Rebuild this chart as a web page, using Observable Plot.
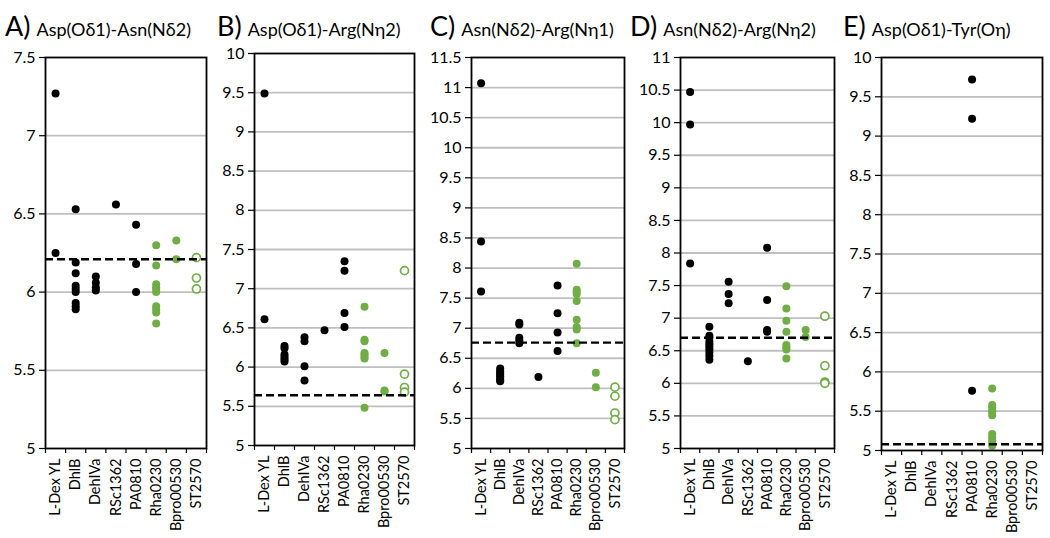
<!DOCTYPE html>
<html><head><meta charset="utf-8">
<script src="https://cdn.jsdelivr.net/npm/d3@7"></script>
<script src="https://cdn.jsdelivr.net/npm/@observablehq/plot@0.6"></script>
<style>
body{margin:0;background:#fff;font-family:Lato,"Open Sans",sans-serif;}
#wrap{position:relative;width:1050px;height:538px;overflow:hidden;}
.title{position:absolute;top:9px;white-space:nowrap;color:#000;}
.title .letter{font-size:27px;}
.title .name{font-size:18px;margin-left:6px;}
#wrap svg{position:absolute;}
</style></head><body><div id="wrap"></div><script>
// ---- data ----
const categories = ["L-Dex YL","DhlB","DehIVa","RSc1362","PA0810","Rha0230","Bpro00530","ST2570"];
const kinds = ["black","black","black","black","black","green","green","open"];

const titlesLetter = ["A)","B)","C)","D)","E)"];
const titlesName = ["Asp(Oδ1)-Asn(Nδ2)","Asp(Oδ1)-Arg(Nη2)","Asn(Nδ2)-Arg(Nη1)","Asn(Nδ2)-Arg(Nη2)","Asp(Oδ1)-Tyr(Oη)"];

const yMaxA = 7.5, yMaxB = 10, yMaxC = 11.5, yMaxD = 11, yMaxE = 10;
const yMin = 5;
const dashA = 6.21, dashB = 5.64, dashC = 6.76, dashD = 6.70, dashE = 5.08;

const valuesA = [
  [7.27, 6.25],
  [6.53, 6.19, 6.12, 6.04, 6.02, 6.00, 5.93, 5.91, 5.89],
  [6.10, 6.06, 6.03, 6.01],
  [6.56],
  [6.43, 6.18, 6.00],
  [6.30, 6.17, 6.05, 6.03, 6.02, 6.00, 5.91, 5.89, 5.87, 5.80],
  [6.33, 6.21],
  [6.22, 6.09, 6.02]
];
const valuesB = [
  [9.49, 6.61],
  [6.27, 6.24, 6.16, 6.13, 6.10, 6.07],
  [6.38, 6.33, 6.01, 5.83],
  [6.47],
  [7.35, 7.23, 6.69, 6.51],
  [6.77, 6.35, 6.33, 6.18, 6.16, 6.13, 6.11, 5.48],
  [6.18, 5.70, 5.69],
  [7.23, 5.91, 5.74, 5.68]
];
const valuesC = [
  [11.07, 8.44, 7.61],
  [6.33, 6.29, 6.26, 6.23, 6.20, 6.17, 6.14, 6.12],
  [7.09, 7.06, 6.84, 6.80, 6.75],
  [6.19],
  [7.71, 7.25, 6.93, 6.62],
  [8.07, 7.64, 7.61, 7.57, 7.45, 7.14, 7.02, 6.98, 6.75],
  [6.26, 6.02],
  [6.02, 5.87, 5.59, 5.48]
];
const valuesD = [
  [10.47, 9.97, 7.84],
  [6.87, 6.73, 6.70, 6.64, 6.60, 6.56, 6.52, 6.47, 6.42, 6.36],
  [7.56, 7.37, 7.23],
  [6.34],
  [8.08, 7.28, 6.82, 6.79],
  [7.49, 7.15, 6.96, 6.79, 6.59, 6.55, 6.52, 6.38],
  [6.82, 6.71],
  [7.03, 6.27, 6.02, 6.00]
];
const valuesE = [
  [], [], [], [],
  [9.72, 9.22, 5.76],
  [5.79, 5.58, 5.55, 5.51, 5.48, 5.45, 5.21, 5.17, 5.13, 5.09, 5.06],
  [], []
];

// ---- layout ----
const panels = [
  {values: valuesA, yMax: yMaxA, dash: dashA, left: 0,   width: 210, ml: 45, mr: 4, mt: 17, mb: 87, titleLeft: 5},
  {values: valuesB, yMax: yMaxB, dash: dashB, left: 210, width: 208, ml: 44, mr: 4, mt: 13, mb: 90, titleLeft: 217},
  {values: valuesC, yMax: yMaxC, dash: dashC, left: 418, width: 210, ml: 53, mr: 4, mt: 17, mb: 87, titleLeft: 430},
  {values: valuesD, yMax: yMaxD, dash: dashD, left: 628, width: 210, ml: 52, mr: 4, mt: 17, mb: 87, titleLeft: 630},
  {values: valuesE, yMax: yMaxE, dash: dashE, left: 838, width: 210, ml: 43, mr: 6, mt: 17, mb: 85, titleLeft: 843}
];
const svgTop = 40, svgHeight = 495;
const green = "#70ad47";

const wrap = document.getElementById("wrap");
panels.forEach((p, k) => {
  const t = document.createElement("div");
  t.className = "title";
  t.style.left = p.titleLeft + "px";
  t.innerHTML = `<span class="letter">${titlesLetter[k]}</span><span class="name">${titlesName[k]}</span>`;
  wrap.appendChild(t);

  const rows = [];
  p.values.forEach((vals, i) => vals.forEach(v => rows.push({i, v, kind: kinds[i]})));
  const yTicks = d3.range(yMin, p.yMax + 0.001, 0.5);
  const grid = yTicks.filter(v => v > yMin && v < p.yMax);
  const centers = d3.range(categories.length);
  const bounds = d3.range(categories.length + 1).map(i => i - 0.5);

  const chart = Plot.plot({
    width: p.width, height: svgHeight,
    marginLeft: p.ml, marginRight: p.mr, marginTop: p.mt, marginBottom: p.mb,
    style: {fontFamily: "Lato, 'Open Sans', sans-serif", fontSize: "15px", color: "#000", background: "transparent", overflow: "visible"},
    x: {type: "linear", domain: [-0.5, categories.length - 0.5], axis: null},
    y: {domain: [yMin, p.yMax], axis: null},
    marks: [
      Plot.ruleY(grid, {stroke: "#bfbfbf", strokeWidth: 1.8}),
      Plot.axisY(yTicks, {tickSize: 6, tickPadding: 4, tickFormat: d => String(d), label: null, fontSize: 16, strokeWidth: 1.2}),
      Plot.axisX(bounds, {tickSize: 5, tickFormat: () => "", label: null, strokeWidth: 1.2}),
      Plot.axisX(centers, {tickSize: 0, tickPadding: 10, tickFormat: i => categories[i], tickRotate: -90, label: null, fontSize: 14.5}),
      Plot.dot(rows, {
        x: "i", y: "v", r: 4,
        fill: d => d.kind === "black" ? "black" : d.kind === "green" ? green : "white",
        stroke: d => d.kind === "open" ? green : "none",
        strokeWidth: 1.7
      }),
      Plot.ruleY([p.dash], {stroke: "black", strokeWidth: 2.4, strokeDasharray: "8,4"}),
      Plot.frame({stroke: "black", strokeWidth: 1.8})
    ]
  });
  chart.style.left = p.left + "px";
  chart.style.top = svgTop + "px";
  wrap.appendChild(chart);
});
</script></body></html>
